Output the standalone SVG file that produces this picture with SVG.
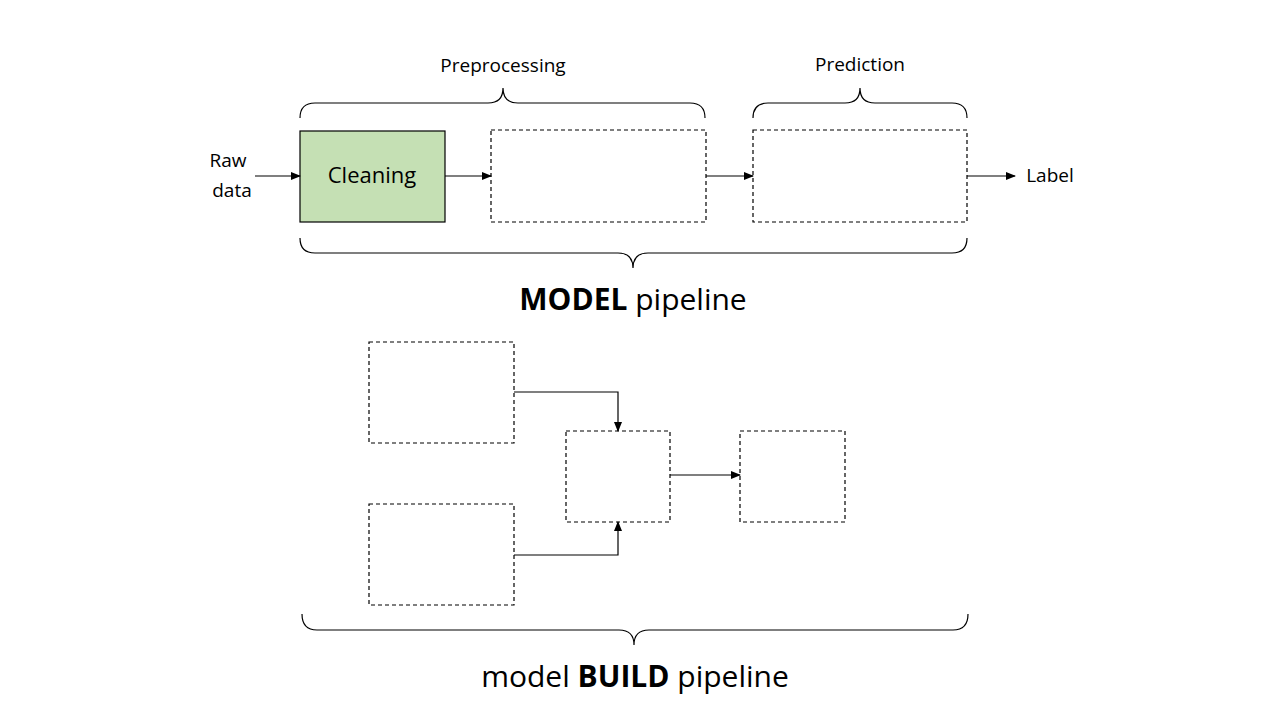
<svg xmlns="http://www.w3.org/2000/svg" width="1280" height="720" viewBox="0 0 1280 720">
<defs>
<marker id="ah" markerWidth="10" markerHeight="8" refX="9" refY="4" orient="auto" markerUnits="userSpaceOnUse"><path d="M0,0 L10,4 L0,8 Z" fill="#000"/></marker>
<style>
.t{font-family:"Open Sans","Liberation Sans",sans-serif;fill:#000}
.d{fill:#fff;stroke:#000;stroke-width:1.2;stroke-dasharray:4 3}
.br{fill:none;stroke:#000;stroke-width:1.2}
.c{fill:none;stroke:#000;stroke-width:1.2;marker-end:url(#ah)}
</style>
</defs>
<rect width="1280" height="720" fill="#fff"/>
<g id="braces">
<path class="br" d="M300,118 Q300,103 315,103 L488,103 Q503,103 503,88 Q503,103 518,103 L690,103 Q705,103 705,118"/>
<path class="br" d="M753,118 Q753,103 768,103 L845,103 Q860,103 860,88 Q860,103 875,103 L952,103 Q967,103 967,118"/>
<path class="br" d="M300,238 Q300,253 315,253 L618,253 Q633,253 633,268 Q633,253 648,253 L952,253 Q967,253 967,238"/>
<path class="br" d="M302,614 Q302,630 317,630 L619,630 Q634,630 634,645 Q634,630 649,630 L953,630 Q968,630 968,614"/>
</g>
<text class="t" x="503" y="72" font-size="19" text-anchor="middle">Preprocessing</text>
<text class="t" x="860" y="71" font-size="19" text-anchor="middle">Prediction</text>
<text class="t" x="228" y="167" font-size="19" text-anchor="middle">Raw</text>
<text class="t" x="232" y="197" font-size="19" text-anchor="middle">data</text>
<text class="t" x="1050" y="182" font-size="19" text-anchor="middle">Label</text>
<text class="t" x="633" y="310" font-size="30" text-anchor="middle"><tspan font-weight="bold">MODEL</tspan> pipeline</text>
<text class="t" x="635" y="687" font-size="30" text-anchor="middle">model <tspan font-weight="bold">BUILD</tspan> pipeline</text>
<g id="cleaning"><rect x="300" y="131" width="145" height="91" fill="#c5e0b4" stroke="#000" stroke-width="1.2"/><text class="t" x="372" y="183" font-size="22" text-anchor="middle">Cleaning</text></g>
<g id="pre2"><rect class="d" x="491" y="130" width="215" height="92"/></g>
<g id="pred"><rect class="d" x="753" y="130" width="214" height="92"/></g>
<g id="b1"><rect class="d" x="369" y="342" width="145" height="101"/></g>
<g id="b2"><rect class="d" x="369" y="504" width="145" height="101"/></g>
<g id="b3"><rect class="d" x="566" y="431" width="104" height="91"/></g>
<g id="b4"><rect class="d" x="740" y="431" width="105" height="91"/></g>
<g id="connectors">
<path class="c" d="M255,176 L300,176"/>
<path class="c" d="M445,176 L491,176"/>
<path class="c" d="M706,176 L753,176"/>
<path class="c" d="M967,176 L1015,176"/>
<path class="c" d="M514,392 L618,392 L618,431"/>
<path class="c" d="M514,555 L618,555 L618,522"/>
<path class="c" d="M670,475 L740,475"/>
</g>
</svg>
